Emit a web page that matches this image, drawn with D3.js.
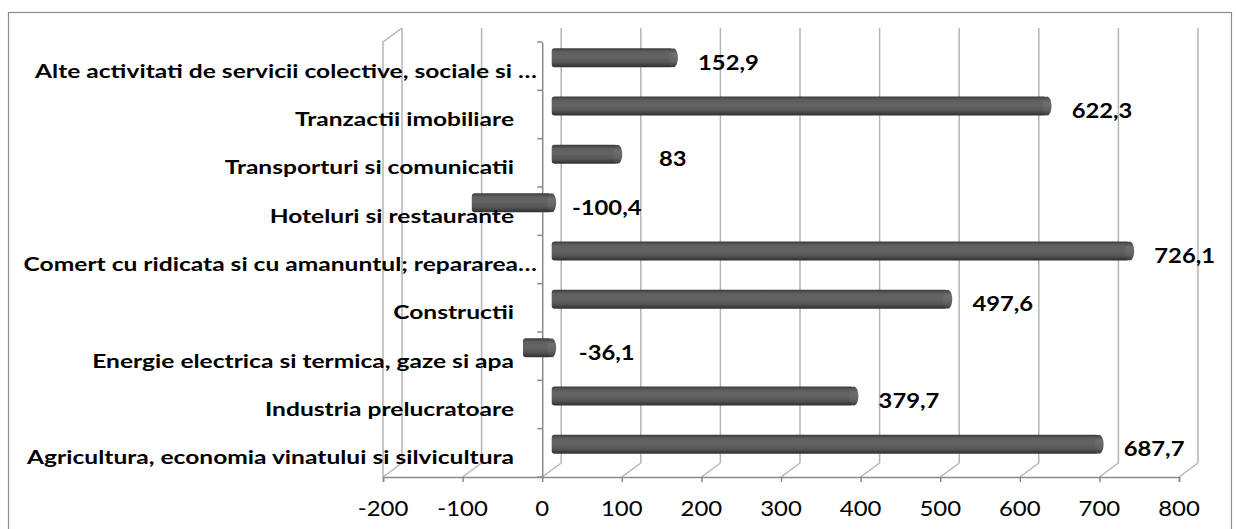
<!DOCTYPE html>
<html>
<head>
<meta charset="utf-8">
<script src="https://cdn.jsdelivr.net/npm/d3@7"></script>
<style>
  html, body { margin: 0; padding: 0; background: #fff; }
  svg { display: block; }
</style>
</head>
<body>
<svg id="chart" width="1236" height="529"></svg>
<script>
const categories = [
  "Agricultura, economia vinatului si silvicultura",
  "Industria prelucratoare",
  "Energie electrica si termica, gaze si apa",
  "Constructii",
  "Comert cu ridicata si cu amanuntul; repararea\u2026",
  "Hoteluri si restaurante",
  "Transporturi si comunicatii",
  "Tranzactii imobiliare",
  "Alte activitati de servicii colective, sociale si \u2026"
];
const values = [687.7, 379.7, -36.1, 497.6, 726.1, -100.4, 83, 622.3, 152.9];
const valueLabels = ["687,7", "379,7", "-36,1", "497,6", "726,1", "-100,4", "83", "622,3", "152,9"];
const xTicks = [-200, -100, 0, 100, 200, 300, 400, 500, 600, 700, 800];

const svg = d3.select("#chart");
const FONT = "Lato, 'Open Sans', sans-serif";
const DX = 19, DY = -14; // 3D depth offset
const BAR_H = 19;

const x = d3.scaleLinear().domain([-200, 800]).range([383, 1179]);
const y = d3.scaleBand().domain(categories).range([477, 42]).padding(0);
const yTop = 42, yBot = 477;

// outer border
svg.append("rect").attr("x", 8.5).attr("y", 12.5).attr("width", 1223).attr("height", 540)
  .attr("fill", "#fff").attr("stroke", "#8c8c8c").attr("stroke-width", 1.2);

const defs = svg.append("defs");
const grad = defs.append("linearGradient").attr("id", "barGrad")
  .attr("x1", 0).attr("y1", 0).attr("x2", 0).attr("y2", 1);
[[0, "#3a3a3a"], [0.18, "#5e5e5e"], [0.45, "#646464"], [0.75, "#555555"], [1, "#2e2e2e"]]
  .forEach(([o, c]) => grad.append("stop").attr("offset", o).attr("stop-color", c));
const capGrad = defs.append("linearGradient").attr("id", "capGrad")
  .attr("x1", 0).attr("y1", 0).attr("x2", 0).attr("y2", 1);
[[0, "#454545"], [0.3, "#6e6e6e"], [0.7, "#626262"], [1, "#383838"]]
  .forEach(([o, c]) => capGrad.append("stop").attr("offset", o).attr("stop-color", c));

const gridColor = "#b5b5b5";
const axisColor = "#8a8a8a";

// back-wall gridlines
svg.append("g").selectAll("line").data(xTicks).join("line")
  .attr("x1", d => x(d) + DX).attr("x2", d => x(d) + DX)
  .attr("y1", yTop + DY).attr("y2", yBot + DY)
  .attr("stroke", gridColor).attr("stroke-width", 1.5);

// floor diagonals
svg.append("g").selectAll("line").data(xTicks).join("line")
  .attr("x1", d => x(d)).attr("x2", d => x(d) + DX)
  .attr("y1", yBot).attr("y2", yBot + DY)
  .attr("stroke", gridColor).attr("stroke-width", 1.5);

// left side wall
const xl = x(xTicks[0]);
svg.append("path")
  .attr("d", `M${xl},${yBot}V${yTop}L${xl + DX},${yTop + DY}`)
  .attr("fill", "none").attr("stroke", gridColor).attr("stroke-width", 1.5);

// front value axis
const xAxis = d3.axisBottom(x).tickValues(xTicks).tickSize(5).tickFormat("");
const gx = svg.append("g").attr("transform", `translate(0,${yBot})`).call(xAxis);
gx.select(".domain").attr("stroke", axisColor).attr("stroke-width", 1.5);
gx.selectAll(".tick line").attr("stroke", axisColor).attr("stroke-width", 1.5);

// category axis at zero
const yAxis = d3.axisLeft(y).tickSize(0).tickFormat("");
const gy = svg.append("g").attr("transform", `translate(${x(0)},0)`).call(yAxis);
gy.select(".domain").attr("stroke", axisColor).attr("stroke-width", 1.5);
const boundaries = categories.map(c => y(c)).concat([y(categories[0]) + y.bandwidth()]);
gy.selectAll("line.bt").data(boundaries).join("line").attr("class", "bt")
  .attr("x1", -5).attr("x2", 0).attr("y1", d => d).attr("y2", d => d)
  .attr("stroke", axisColor).attr("stroke-width", 1.5);

// bars (cylinders at mid-depth)
const bx = v => x(v) + DX / 2;
const by = c => y(c) + y.bandwidth() / 2 + DY / 2 - 1.5;
const data = categories.map((c, i) => ({ c, v: values[i], label: valueLabels[i] }));
const bars = svg.append("g");
bars.selectAll("rect").data(data).join("rect")
  .attr("x", d => Math.min(bx(0), bx(d.v)))
  .attr("width", d => Math.abs(bx(d.v) - bx(0)))
  .attr("y", d => by(d.c) - BAR_H / 2).attr("height", BAR_H)
  .attr("rx", 3)
  .attr("fill", "url(#barGrad)");
bars.selectAll("ellipse").data(data).join("ellipse")
  .attr("cx", d => Math.max(bx(0), bx(d.v)))
  .attr("cy", d => by(d.c))
  .attr("rx", 4.5).attr("ry", BAR_H / 2)
  .attr("fill", "url(#capGrad)");

function stretchText(sel, sx, fx, fy) {
  sel.attr("transform", (d, i) => `translate(${fx(d, i)},${fy(d, i)}) scale(${sx},1)`)
    .attr("x", 0).attr("y", 0);
}

// value labels
const vl = svg.append("g").selectAll("text").data(data).join("text")
  .attr("text-anchor", "middle").attr("dominant-baseline", "central")
  .attr("font-family", FONT).attr("font-weight", "bold").attr("font-size", 20.5)
  .attr("fill", "#000").text(d => d.label);
stretchText(vl, 1.16, d => bx(Math.max(d.v, 0)) + 55, d => by(d.c) + 4);

// category labels
const cl = svg.append("g").selectAll("text").data(data).join("text")
  .attr("text-anchor", "end").attr("dominant-baseline", "central")
  .attr("font-family", FONT).attr("font-weight", "bold").attr("font-size", 19.5)
  .attr("fill", "#000").text(d => d.c);
stretchText(cl, 1.26, d => d.c.endsWith("\u2026") ? 537 : 514, d => y(d.c) + y.bandwidth() / 2 + 4);

// tick labels
const tl = svg.append("g").selectAll("text").data(xTicks).join("text")
  .attr("text-anchor", "middle").attr("dominant-baseline", "central")
  .attr("font-family", FONT).attr("font-size", 21)
  .attr("fill", "#000").text(d => d);
stretchText(tl, 1.14, d => x(d), () => 508);
</script>
</body>
</html>
